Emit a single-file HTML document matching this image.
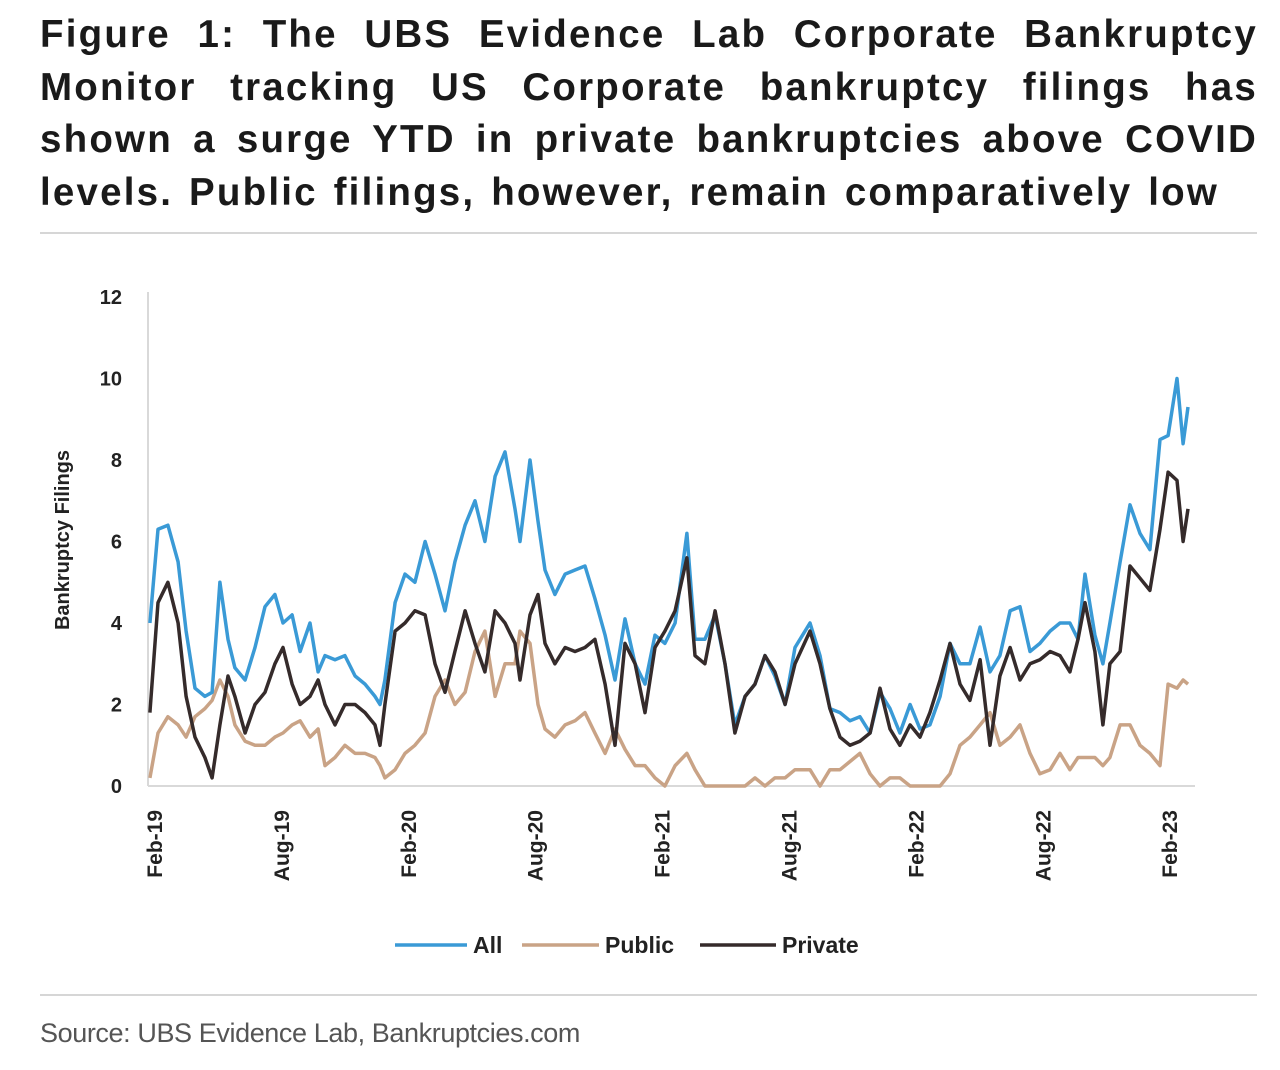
<!DOCTYPE html>
<html><head><meta charset="utf-8"><style>
body{margin:0;background:#fff;width:1280px;height:1070px;overflow:hidden;font-family:"Liberation Sans",sans-serif}
#title{position:absolute;left:40px;top:9px;width:1216px;font-weight:bold;font-size:38.5px;line-height:52.5px;color:#1a1a1a;letter-spacing:2.2px}
#title div{text-align:justify;text-align-last:justify;white-space:nowrap;margin-right:-2px}
#title div.last{text-align-last:left;word-spacing:3px}
.rule{position:absolute;left:40px;width:1217px;height:2px;background:#d6d6d6}
#src{position:absolute;left:40px;top:1018px;font-size:27px;color:#555;letter-spacing:-0.4px}
</style></head><body>
<div id="title">
<div>Figure 1: The UBS Evidence Lab Corporate Bankruptcy</div>
<div>Monitor tracking US Corporate bankruptcy filings has</div>
<div>shown a surge YTD in private bankruptcies above COVID</div>
<div class="last">levels. Public filings, however, remain comparatively low</div>
</div>
<div class="rule" style="top:232px"></div>
<div class="rule" style="top:994px"></div>
<div id="src">Source: UBS Evidence Lab, Bankruptcies.com</div>
<svg id="chart" width="1280" height="1070" style="position:absolute;left:0;top:0"></svg>
<script>
const months=[-0.24,0.14,0.61,1.09,1.47,1.89,2.36,2.7,3.07,3.45,3.78,4.26,4.73,5.2,5.67,6.05,6.48,6.86,7.33,7.71,8.04,8.51,8.98,9.46,9.93,10.4,10.64,10.87,11.35,11.82,12.29,12.77,13.24,13.71,14.18,14.66,15.13,15.6,16.08,16.55,17.02,17.26,17.73,18.11,18.44,18.91,19.39,19.86,20.33,20.8,21.28,21.75,22.22,22.7,23.17,23.64,24.11,24.59,25.15,25.53,26.0,26.48,26.95,27.42,27.9,28.37,28.84,29.31,29.79,30.26,30.97,31.44,31.91,32.39,32.86,33.33,33.81,34.28,34.75,35.22,35.7,36.17,36.64,37.12,37.59,38.06,38.53,39.01,39.48,39.95,40.43,40.9,41.37,41.84,42.32,42.79,43.26,43.64,43.97,44.44,44.82,45.15,45.63,46.1,46.57,47.04,47.52,47.9,48.32,48.61,48.84];
const allVals=[4.0,6.3,6.4,5.5,3.8,2.4,2.2,2.3,5.0,3.6,2.9,2.6,3.4,4.4,4.7,4.0,4.2,3.3,4.0,2.8,3.2,3.1,3.2,2.7,2.5,2.2,2.0,2.6,4.5,5.2,5.0,6.0,5.2,4.3,5.5,6.4,7.0,6.0,7.6,8.2,6.8,6.0,8.0,6.5,5.3,4.7,5.2,5.3,5.4,4.6,3.7,2.6,4.1,3.0,2.5,3.7,3.5,4.0,6.2,3.6,3.6,4.2,3.0,1.5,2.2,2.5,3.2,2.7,2.0,3.4,4.0,3.2,1.9,1.8,1.6,1.7,1.3,2.3,1.9,1.3,2.0,1.4,1.5,2.2,3.5,3.0,3.0,3.9,2.8,3.2,4.3,4.4,3.3,3.5,3.8,4.0,4.0,3.6,5.2,3.7,3.0,4.0,5.5,6.9,6.2,5.8,8.5,8.6,10.0,8.4,9.3];
const privateVals=[1.8,4.5,5.0,4.0,2.2,1.2,0.7,0.2,1.5,2.7,2.2,1.3,2.0,2.3,3.0,3.4,2.5,2.0,2.2,2.6,2.0,1.5,2.0,2.0,1.8,1.5,1.0,2.0,3.8,4.0,4.3,4.2,3.0,2.3,3.3,4.3,3.5,2.8,4.3,4.0,3.5,2.6,4.2,4.7,3.5,3.0,3.4,3.3,3.4,3.6,2.5,1.0,3.5,3.0,1.8,3.4,3.8,4.3,5.6,3.2,3.0,4.3,3.0,1.3,2.2,2.5,3.2,2.8,2.0,3.0,3.8,3.0,1.9,1.2,1.0,1.1,1.3,2.4,1.4,1.0,1.5,1.2,1.8,2.6,3.5,2.5,2.1,3.1,1.0,2.7,3.4,2.6,3.0,3.1,3.3,3.2,2.8,3.6,4.5,3.3,1.5,3.0,3.3,5.4,5.1,4.8,6.3,7.7,7.5,6.0,6.8];
const publicVals=[0.2,1.3,1.7,1.5,1.2,1.7,1.9,2.1,2.6,2.2,1.5,1.1,1.0,1.0,1.2,1.3,1.5,1.6,1.2,1.4,0.5,0.7,1.0,0.8,0.8,0.7,0.5,0.2,0.4,0.8,1.0,1.3,2.2,2.6,2.0,2.3,3.3,3.8,2.2,3.0,3.0,3.8,3.5,2.0,1.4,1.2,1.5,1.6,1.8,1.3,0.8,1.4,0.9,0.5,0.5,0.2,0.0,0.5,0.8,0.4,0.0,0.0,0.0,0.0,0.0,0.2,0.0,0.2,0.2,0.4,0.4,0.0,0.4,0.4,0.6,0.8,0.3,0.0,0.2,0.2,0.0,0.0,0.0,0.0,0.3,1.0,1.2,1.5,1.8,1.0,1.2,1.5,0.8,0.3,0.4,0.8,0.4,0.7,0.7,0.7,0.5,0.7,1.5,1.5,1.0,0.8,0.5,2.5,2.4,2.6,2.5];
const yTicks=[0,2,4,6,8,10,12];
const xTickLabels=["Feb-19","Aug-19","Feb-20","Aug-20","Feb-21","Aug-21","Feb-22","Aug-22","Feb-23"];
const xTickMonths=[0,6,12,18,24,30,36,42,48];

const NS="http://www.w3.org/2000/svg";
const svg=document.getElementById('chart');
const X=m=>155+m*21.15;
const Y=v=>786-v*40.75;
function mk(t,a,p){const e=document.createElementNS(NS,t);for(const k in a)e.setAttribute(k,a[k]);(p||svg).appendChild(e);return e;}
let e;
e=mk('line',{x1:148,y1:292,x2:148,y2:786,stroke:'#d9d9d9','stroke-width':2});


e=mk('line',{x1:148,y1:786,x2:1195,y2:786,stroke:'#d9d9d9','stroke-width':2});


yTicks.forEach(v=>{
  const t=mk('text',{x:122,y:Y(v)+7,'text-anchor':'end','font-size':20,'font-weight':'bold',fill:'#222'});
  t.textContent=v;
  
  
});
xTickLabels.forEach((l,i)=>{
  const x=X(xTickMonths[i])+7;
  const t=mk('text',{x:x,y:810,'text-anchor':'end','font-size':21,'font-weight':'bold',fill:'#222',transform:`rotate(-90 ${x} 810)`});
  t.textContent=l;
  
  
});
e=mk('text',{x:69,y:540,'text-anchor':'middle','font-size':20,'font-weight':'bold',fill:'#222',transform:'rotate(-90 69 540)'});
e.textContent='Bankruptcy Filings';


function line(vals,color,name){
  const d=vals.map((v,i)=>(i?'L':'M')+X(months[i]).toFixed(1)+' '+Y(v).toFixed(1)).join(' ');
  const p=mk('path',{d:d,fill:'none',stroke:color,'stroke-width':3.5,'stroke-linejoin':'round'});
  
  
}
line(publicVals,'#c9a386','public-line');
line(allVals,'#3a9ad6','all-line');
line(privateVals,'#352b2b','private-line');
const legend=[['All','#3a9ad6',395,473],['Public','#c9a386',522,605],['Private','#352b2b',700,782]];
legend.forEach(l=>{
  const g=mk('g',{});
  
  
  mk('line',{x1:l[2],y1:945,x2:l[3]-6,y2:945,stroke:l[1],'stroke-width':3.5},g);
  const t=mk('text',{x:l[3],y:953,'font-size':23,'font-weight':'bold',fill:'#222'},g);
  t.textContent=l[0];
});
</script>
</body></html>
